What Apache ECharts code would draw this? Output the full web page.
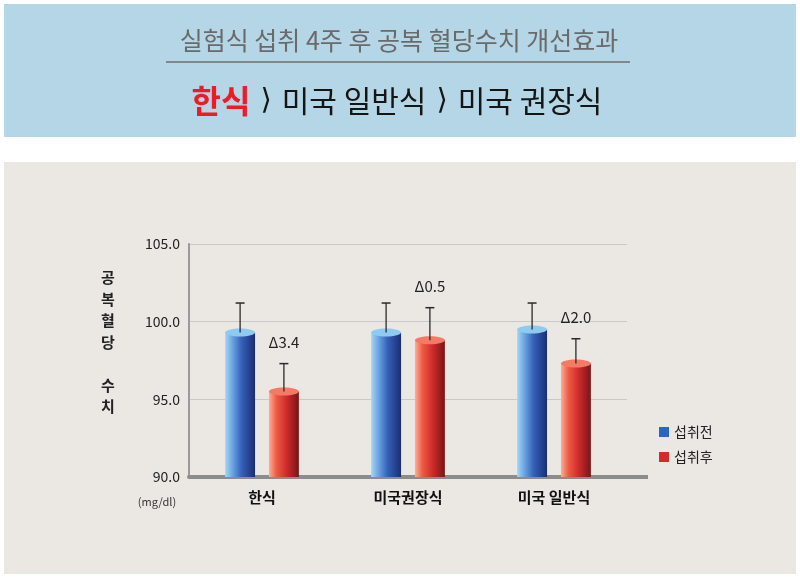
<!DOCTYPE html>
<html><head><meta charset="utf-8">
<script src="https://cdn.jsdelivr.net/npm/echarts@6/dist/echarts.min.js"></script>
<style>html,body{margin:0;padding:0;background:#fff}#c{width:800px;height:578px}</style>
</head><body><div id="c"></div>
<script>
const categories = ['한식', '미국권장식', '미국 일반식'];
const seriesNames = ['섭취전', '섭취후'];
const beforeValues = [99.3, 99.3, 99.5];
const beforeErrTop = [101.2, 101.2, 101.2];
const afterValues = [95.5, 98.8, 97.3];
const afterErrTop = [97.3, 100.9, 98.9];
const deltaLabels = ['Δ3.4', 'Δ0.5', 'Δ2.0'];
const yTicks = [90, 95, 100, 105];
const FONT = "'Noto Sans CJK KR', 'Noto Sans', sans-serif";

function grad(stops) {
  return new echarts.graphic.LinearGradient(0, 0, 1, 0, stops.map((c, i) => ({offset: c[0], color: c[1]})));
}
const blueBody = [[0,'#a6d6f4'],[0.25,'#6aa3e0'],[0.55,'#3461b8'],[1,'#1b2d74']];
const redBody = [[0,'#f9b09a'],[0.25,'#ee5a44'],[0.6,'#cc2a2a'],[1,'#7a1416']];

function makeRender(bodyStops, capColor, sign, labels) {
  return function (params, api) {
    const cat = api.value(0), val = api.value(1), err = api.value(2);
    const catW = api.size([1, 0])[0];
    const barW = catW * 0.205;
    const off = sign * catW * 0.15;
    const top = api.coord([cat, val]);
    const base = api.coord([cat, 90]);
    const eTop = api.coord([cat, err]);
    const cx = top[0] + off;
    const children = [
      {type: 'rect', shape: {x: cx - barW / 2, y: top[1], width: barW, height: base[1] - top[1]},
        style: {fill: grad(bodyStops)}},
      {type: 'ellipse', shape: {cx: cx, cy: top[1], rx: barW / 2, ry: 4},
        style: {fill: capColor}},
      {type: 'line', shape: {x1: cx, y1: top[1], x2: cx, y2: eTop[1]},
        style: {stroke: '#2a2a2a', lineWidth: 1.3}},
      {type: 'line', shape: {x1: cx - 4.5, y1: eTop[1], x2: cx + 4.5, y2: eTop[1]},
        style: {stroke: '#2a2a2a', lineWidth: 1.5}}
    ];
    if (labels) {
      children.push({type: 'text', x: cx, y: eTop[1] - 21,
        style: {text: labels[params.dataIndex], fill: '#222', font: '15px ' + FONT,
          textAlign: 'center', textVerticalAlign: 'middle'}});
    }
    return {type: 'group', children: children};
  };
}

const chart = echarts.init(document.getElementById('c'), null, {renderer: 'canvas'});
chart.setOption({
  backgroundColor: '#ffffff',
  animation: false,
  textStyle: {fontFamily: FONT},
  graphic: [
    {type: 'rect', z: -10, shape: {x: 4, y: 4, width: 792, height: 133}, style: {fill: '#b5d6e6'}},
    {type: 'rect', z: -10, shape: {x: 4, y: 162, width: 792, height: 412}, style: {fill: '#ebe8e4'}},
    {type: 'text', x: 399, y: 40, style: {text: '실험식 섭취 4주 후 공복 혈당수치 개선효과', fill: '#6a6a6a',
      font: '25px ' + FONT, textAlign: 'center', textVerticalAlign: 'middle'}},
    {type: 'line', shape: {x1: 166, y1: 62, x2: 630, y2: 62}, style: {stroke: '#6e6e6e', lineWidth: 1.5}},
    {type: 'text', x: 397, y: 101, style: {
      text: '{r|한식}{k|⟩}{b|미국 일반식}{k|⟩}{b|미국 권장식}',
      textAlign: 'center', textVerticalAlign: 'middle',
      rich: {
        r: {fill: '#ee1b24', font: 'bold 32px ' + FONT},
        k: {fill: '#151515', font: '29px "DejaVu Sans"', padding: [0, 10, 0, 10]},
        b: {fill: '#151515', font: '30px ' + FONT}
      }}},
    {type: 'text', x: 108, y: 267, style: {text: '공\n복\n혈\n당\n\n수\n치', fill: '#222',
      font: 'bold 15px ' + FONT, lineHeight: 21.5, textAlign: 'center'}},
    {type: 'text', x: 157, y: 502, style: {text: '(mg/dl)', fill: '#333', font: '11px ' + FONT,
      textAlign: 'center', textVerticalAlign: 'middle'}},
    {type: 'line', z: 5, shape: {x1: 620, y1: 477, x2: 648, y2: 477}, style: {stroke: '#8c8c8c', lineWidth: 4}}
  ],
  grid: {left: 189, right: 173, top: 244, bottom: 101},
  legend: {
    orient: 'vertical', left: 654, top: 420, itemWidth: 10, itemHeight: 10, itemGap: 11,
    icon: 'rect', data: seriesNames,
    textStyle: {fontSize: 14, color: '#222', fontFamily: FONT}
  },
  xAxis: {
    type: 'category', data: categories,
    axisLine: {show: true, lineStyle: {color: '#8c8c8c', width: 4}},
    axisTick: {show: false},
    axisLabel: {fontSize: 15, fontWeight: 'bold', color: '#111', margin: 13, fontFamily: FONT}
  },
  yAxis: {
    type: 'value', min: yTicks[0], max: yTicks[yTicks.length - 1], interval: 5,
    axisLine: {show: true, lineStyle: {color: '#9a9a9a', width: 2}},
    axisTick: {show: false},
    axisLabel: {fontSize: 14, color: '#222', margin: 9, formatter: v => v.toFixed(1), fontFamily: FONT},
    splitLine: {show: true, lineStyle: {color: '#c9c9c9', width: 1}}
  },
  series: [
    {name: seriesNames[0], type: 'custom', itemStyle: {color: '#2a66c2'},
      encode: {x: 0, y: 1},
      data: categories.map((c, i) => [i, beforeValues[i], beforeErrTop[i]]),
      renderItem: makeRender(blueBody, '#8fcbf1', -1, null)},
    {name: seriesNames[1], type: 'custom', itemStyle: {color: '#d42a2a'},
      encode: {x: 0, y: 1},
      data: categories.map((c, i) => [i, afterValues[i], afterErrTop[i]]),
      renderItem: makeRender(redBody, '#f47a66', 1, deltaLabels)}
  ]
});
</script></body></html>
